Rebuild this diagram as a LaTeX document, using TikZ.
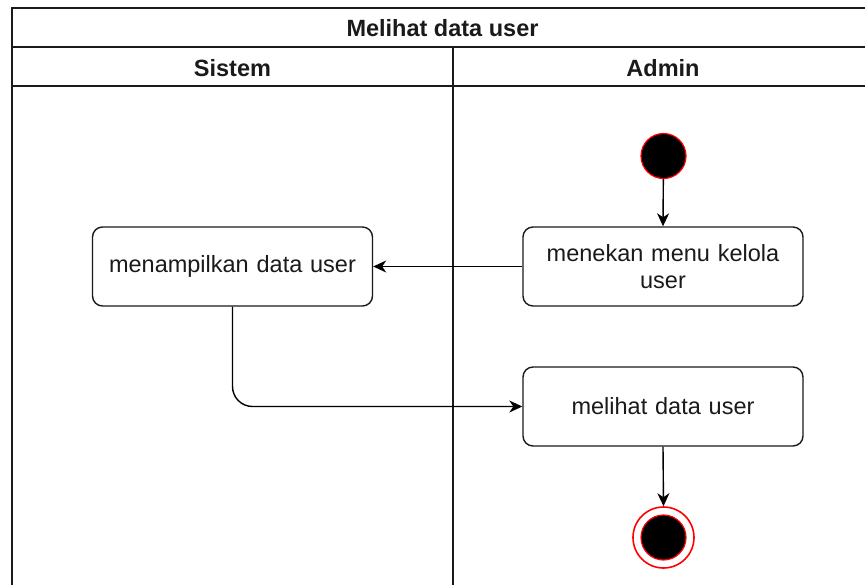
\documentclass[tikz,border=0pt]{standalone}
\usepackage{fontspec}
\setmainfont{Liberation Sans}
\usetikzlibrary{arrows.meta}
\definecolor{ink}{HTML}{1A1A1A}
\begin{document}
\begin{tikzpicture}[x=1pt,y=-1pt,
  lane/.style={draw=ink, line width=1.6pt},
  head/.style={font=\fontsize{23.5}{26}\selectfont\bfseries, text=ink, inner sep=0pt},
  act/.style={draw=ink, line width=1.4pt, rounded corners=10pt, fill=white,
    minimum width=280pt, minimum height=79pt, text width=250pt, align=center,
    inner sep=0pt, text=ink, font=\fontsize{23.5}{26.5}\selectfont},
  flow/.style={draw=black, line width=1.4pt, -{Stealth[length=13pt,width=12pt,inset=4pt]}},
  initial/.style={circle, fill=black, draw=red, line width=1.2pt, minimum size=45pt, inner sep=0pt},
  finalring/.style={circle, fill=white, draw=red, line width=1.6pt, minimum size=61pt, inner sep=0pt},
  finaldot/.style={circle, fill=black, draw=red, line width=1.2pt, minimum size=45pt, inner sep=0pt}]
\useasboundingbox (0,0) rectangle (865,584);
\clip (0,0) rectangle (865,584);

% swimlane frame
\draw[lane] (12,8) rectangle (873,600);
\draw[lane] (12,47) -- (873,47);
\draw[lane] (12,86) -- (873,86);
\draw[lane] (453,47) -- (453,600);

\node[head] (title) at (442.5,28) {Melihat data user};
\node[head] (sistem) at (232.5,68) {Sistem};
\node[head] (admin) at (663,68) {Admin};

% activities
\node[initial] (start) at (663.5,156) {};
\node[act] (menekan) at (663,266.5) {menekan menu kelola\\user};
\node[act] (tampil) at (232.5,266.5) {menampilkan data user};
\node[act] (lihat) at (663,406.5) {melihat data user};
\node[finalring] (end) at (663.5,537.5) {};
\node[finaldot] (enddot) at (end) {};

% control flow
\draw[flow] (start) -- (menekan.north);
\draw[flow] (menekan.west) -- (tampil.east);
\draw[flow, rounded corners=20pt] (tampil.south) |- (lihat.west);
\draw[flow] (lihat.south) -- (end.north);
\end{tikzpicture}
\end{document}
